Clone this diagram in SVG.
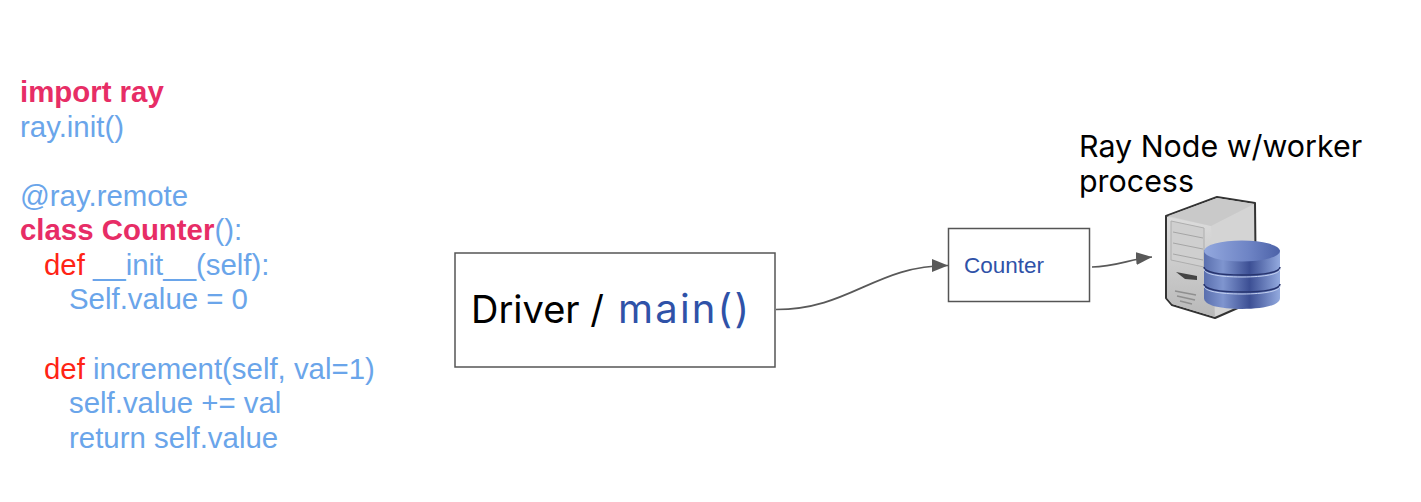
<svg xmlns="http://www.w3.org/2000/svg" width="1421" height="502" viewBox="0 0 1421 502">
<style>
.c{font-family:"Liberation Sans",Arial,sans-serif;font-size:29.4px;fill:#6aa5ea}
.k{font-weight:700;fill:#e72d66}
.d{fill:#ff2415}
.p{font-family:"Inter","Lato",sans-serif;fill:#000}
.b{fill:#fff;stroke:#555;stroke-width:1.5}
.l{fill:none;stroke:#595959;stroke-width:1.7}
</style>
<defs>
<marker id="a" markerUnits="userSpaceOnUse" markerWidth="17" markerHeight="13" refX="16" refY="6.500" orient="auto"><path d="M0 0L16 6.500L0 13Z" fill="#595959"/></marker>
<linearGradient id="cyl" x1="0" x2="1" y1="0" y2="0"><stop offset="0" stop-color="#5a6fae"/><stop offset=".25" stop-color="#7f95cf"/><stop offset=".6" stop-color="#3c4f94"/><stop offset="1" stop-color="#93aadf"/></linearGradient>
<linearGradient id="top" x1="0" x2="1" y1="0" y2="0"><stop offset="0" stop-color="#93a8de"/><stop offset=".6" stop-color="#6d83c4"/><stop offset="1" stop-color="#4c62a8"/></linearGradient>
<linearGradient id="front" x1="0" x2="0" y1="0" y2="1"><stop offset="0" stop-color="#dcdcdc"/><stop offset="1" stop-color="#b9b9b9"/></linearGradient>
</defs>
<g id="code">
<text class="c k" x="20" y="101.500">import ray</text>
<text class="c" x="20" y="136.500">ray.init()</text>
<text class="c" x="20" y="205.500">@ray.remote</text>
<text class="c" x="20" y="240"><tspan class="k">class Counter</tspan>():</text>
<text class="c" x="44" y="275"><tspan class="d">def</tspan> __init__(self):</text>
<text class="c" x="69" y="309">Self.value = 0</text>
<text class="c" x="44" y="379"><tspan class="d">def</tspan> increment(self, val=1)</text>
<text class="c" x="69" y="413">self.value += val</text>
<text class="c" x="69" y="448">return self.value</text>
</g>
<g id="driver">
<rect class="b" x="455" y="253" width="320" height="114"/>
<text class="p" x="471" y="323" font-size="38">Driver / </text>
<text class="p" x="618" y="323" font-size="40" letter-spacing="2.200" style="fill:#2f52a8">main()</text>
</g>
<g id="counter">
<rect class="b" x="948.500" y="228.500" width="141" height="73"/>
<text x="964" y="273" font-family="Liberation Sans, Arial, sans-serif" font-size="22.500" fill="#2f52a8">Counter</text>
</g>
<g id="connectors">
<path class="l" marker-end="url(#a)" d="M776 309.500C850 309.500 875 265.500 948 265.500"/>
<path class="l" marker-end="url(#a)" d="M1092 267C1115 267 1130 259 1152 257"/>
</g>
<g id="node-label">
<text class="p" x="1079" y="157" font-size="30.400">Ray Node w/worker</text>
<text class="p" x="1079" y="192" font-size="30.400">process</text>
</g>
<g id="server">
<path d="M1166 216L1217 197L1255 203L1256 300L1215 318L1172 305L1166 298Z" fill="#d4d4d4" stroke="#333" stroke-width="2" stroke-linejoin="round"/>
<path d="M1167 217L1211 226L1215 317L1172 304L1167 298Z" fill="url(#front)"/>
<path d="M1168 216L1217 198L1254 204L1211 226Z" fill="#c9c9c9"/>
<path d="M1171 221L1204 228V267L1171 260Z" fill="#cfcfcf" stroke="#aeaeae"/>
<path d="M1173 232L1203 238M1173 243L1203 249M1173 254L1203 260" stroke="#a5a5a5"/>
<path d="M1176 272L1197 276V280L1185 279Z" fill="#444"/>
<path d="M1175 291L1196 295M1177 296L1195 300M1180 301L1192 304" stroke="#8f8f8f" stroke-width="1.500"/>
<path d="M1204 250V298C1204 305 1219 309 1242 309C1265 309 1280 305 1280 298V250Z" fill="url(#cyl)"/>
<ellipse cx="1242" cy="251" rx="38" ry="10.500" fill="url(#top)"/>
<path d="M1204 267C1204 272 1219 275 1242 275C1265 275 1280 272 1280 267M1204 284C1204 289 1219 292 1242 292C1265 292 1280 289 1280 284" fill="none" stroke="#27346e" stroke-width="1.500"/>
<path d="M1204 269C1204 274 1219 277 1242 277C1265 277 1280 274 1280 269M1204 286C1204 291 1219 294 1242 294C1265 294 1280 291 1280 286" fill="none" stroke="#c3d0f0" stroke-width="1"/>
</g>
</svg>
